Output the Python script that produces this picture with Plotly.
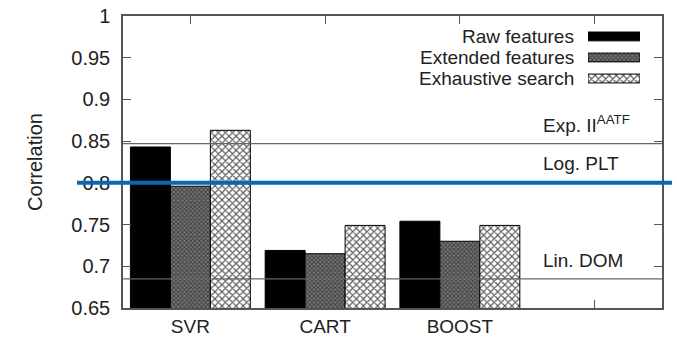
import plotly.graph_objects as go

# Correlation achieved by each regression model with three feature sets
categories = ["SVR", "CART", "BOOST"]
series_names = ["Raw features", "Extended features", "Exhaustive search"]
raw_features = [0.843, 0.719, 0.754]
extended_features = [0.796, 0.715, 0.730]
exhaustive_search = [0.863, 0.749, 0.749]

# Reference models drawn as horizontal lines
baseline_names = ["Exp. II<sup>AATF</sup>", "Log. PLT", "Lin. DOM"]
baseline_values = [0.847, 0.800, 0.685]

y_ticks = [0.65, 0.7, 0.75, 0.8, 0.85, 0.9, 0.95, 1.0]
y_tick_labels = ["0.65", "0.7", "0.75", "0.8", "0.85", "0.9", "0.95", "1"]

FONT = "Liberation Sans, Arial, Helvetica, sans-serif"
TEXT = "#222222"
AXIS = "#555555"
FS = 19

series_values = [raw_features, extended_features, exhaustive_search]
series_styles = [
    dict(color="#000000", pattern=dict(shape="")),
    dict(color="#5c5c5c", pattern=dict(shape="x", fgcolor="#3c3c3c", bgcolor="#7a7a7a",
                                       size=3, solidity=0.5)),
    dict(color="#ffffff", pattern=dict(shape="x", fgcolor="#5a5a5a", bgcolor="#ffffff",
                                       size=5, solidity=0.4)),
]

fig = go.Figure()
x_pos = list(range(len(categories)))
for name, vals, st in zip(series_names, series_values, series_styles):
    fig.add_trace(go.Bar(
        x=x_pos, y=vals, name=name, showlegend=False,
        marker=dict(color=st["color"], pattern=st["pattern"],
                    line=dict(color="#000000", width=1)),
    ))

# Legend drawn as swatches on a small overlay axis, labels to their left
for i, (name, st) in enumerate(zip(series_names, series_styles)):
    fig.add_trace(go.Bar(
        x=[1], y=[i], orientation="h", width=0.42, offset=-0.21,
        xaxis="x2", yaxis="y2", showlegend=False, hoverinfo="skip",
        marker=dict(color=st["color"], pattern=st["pattern"],
                    line=dict(color="#000000", width=1)),
    ))
    fig.add_annotation(
        x=0.8404, xref="paper", xanchor="right",
        y=i, yref="y2", yanchor="middle",
        text=name, showarrow=False,
        font=dict(family=FONT, size=FS, color=TEXT),
    )

# Baseline lines and their labels
line_styles = [
    dict(color="#666666", width=1.3, x0=0, x1=1, shift=6),
    dict(color="#0868b8", width=4, x0=-0.0853, x1=1.0186, shift=7),
    dict(color="#666666", width=1.3, x0=0, x1=1, shift=6),
]
for name, val, ls in zip(baseline_names, baseline_values, line_styles):
    fig.add_shape(
        type="line", xref="paper", yref="y",
        x0=ls["x0"], x1=ls["x1"], y0=val, y1=val,
        line=dict(color=ls["color"], width=ls["width"]), layer="above",
    )
    fig.add_annotation(
        x=0.7755, xref="paper", xanchor="left",
        y=val, yref="y", yanchor="bottom", yshift=ls["shift"],
        text=name, showarrow=False,
        font=dict(family=FONT, size=FS, color=TEXT),
    )

axis_common = dict(
    showline=True, linecolor=AXIS, linewidth=1.5,
    ticks="inside", ticklen=8, tickwidth=1.2, tickcolor=AXIS,
    mirror="ticks", showgrid=False, zeroline=False,
)

fig.update_layout(
    width=677, height=339,
    margin=dict(l=123, r=15, t=16, b=31),
    template="none",
    paper_bgcolor="white", plot_bgcolor="white",
    barmode="group", bargap=0.11, bargroupgap=0,
    font=dict(family=FONT, size=FS, color=TEXT),
    xaxis=dict(
        range=[-0.5, 3.5],
        tickvals=x_pos, ticktext=categories,
        ticklabelstandoff=0,
        tickfont=dict(family=FONT, size=FS, color=TEXT),
        minor=dict(dtick=1, tick0=0, ticks="inside", ticklen=8,
                   tickwidth=1.2, tickcolor=AXIS, showgrid=False),
        **axis_common,
    ),
    yaxis=dict(
        range=[0.65, 1.0],
        tickvals=y_ticks, ticktext=y_tick_labels,
        ticklabelstandoff=7,
        tickfont=dict(family=FONT, size=20, color=TEXT),
        title=dict(text="Correlation", standoff=23,
                   font=dict(family=FONT, size=20, color=TEXT)),
        **axis_common,
    ),
    xaxis2=dict(domain=[0.8627, 0.9592], anchor="y2", range=[0, 1], visible=False),
    yaxis2=dict(domain=[0.75, 0.966], anchor="x2", range=[2.5, -0.5], visible=False),
)

fig.write_html("out.html")
